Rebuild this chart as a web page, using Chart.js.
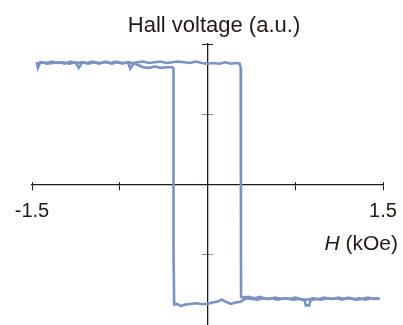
<!DOCTYPE html>
<html>
<head>
<meta charset="utf-8">
<script src="https://cdn.jsdelivr.net/npm/chart.js@4/dist/chart.umd.min.js"></script>
<style>
html,body{margin:0;padding:0;background:#fff;}
canvas{display:block;}
</style>
</head>
<body>
<canvas id="c" width="403" height="325"></canvas>
<script>
// Field sweep upward (from -1.5 to +1.5 kOe)
const ascH = [-1.46,-1.45,-1.43,-1.38,-1.33,-1.28,-1.23,-1.18,-1.13,-1.10,-1.07,-1.03,-0.98,-0.93,-0.88,-0.83,-0.78,-0.73,-0.68,-0.66,-0.63,-0.60,-0.55,-0.50,-0.45,-0.40,-0.35,-0.30,-0.25,-0.20,-0.15,-0.10,-0.05,0.00,0.05,0.10,0.15,0.20,0.25,0.275,0.284,0.286,0.286,0.286,0.287,0.30,0.35,0.40,0.45,0.50,0.55,0.60,0.65,0.70,0.75,0.80,0.85,0.90,0.95,1.00,1.05,1.10,1.15,1.20,1.25,1.30,1.35,1.40,1.47];
const ascV = [1.74,1.66,1.74,1.73,1.75,1.73,1.74,1.72,1.74,1.66,1.74,1.73,1.75,1.72,1.74,1.73,1.75,1.72,1.74,1.65,1.73,1.74,1.75,1.73,1.74,1.75,1.73,1.74,1.75,1.74,1.73,1.75,1.73,1.72,1.73,1.72,1.74,1.72,1.73,1.72,1.66,1.0,0.0,-1.0,-1.60,-1.61,-1.60,-1.62,-1.60,-1.63,-1.62,-1.64,-1.62,-1.63,-1.61,-1.63,-1.64,-1.62,-1.63,-1.61,-1.63,-1.62,-1.64,-1.61,-1.63,-1.62,-1.64,-1.62,-1.63];
// Field sweep downward (from +1.5 to -1.5 kOe)
const descH = [1.47,1.42,1.37,1.32,1.27,1.22,1.17,1.12,1.07,1.02,0.97,0.92,0.88,0.87,0.84,0.83,0.78,0.73,0.68,0.63,0.58,0.53,0.48,0.43,0.38,0.33,0.28,0.24,0.20,0.16,0.12,0.08,0.04,0.00,-0.05,-0.10,-0.15,-0.19,-0.23,-0.26,-0.285,-0.29,-0.29,-0.29,-0.292,-0.30,-0.35,-0.40,-0.45,-0.50,-0.55,-0.58,-0.62,-0.67,-0.72,-0.77,-0.82,-0.87,-0.92,-0.97,-1.02,-1.07,-1.12,-1.17,-1.22,-1.27,-1.32,-1.37,-1.42,-1.46];
const descV = [-1.62,-1.63,-1.61,-1.63,-1.64,-1.62,-1.63,-1.61,-1.63,-1.62,-1.64,-1.63,-1.65,-1.72,-1.72,-1.65,-1.63,-1.64,-1.62,-1.63,-1.61,-1.63,-1.62,-1.64,-1.63,-1.62,-1.67,-1.68,-1.70,-1.67,-1.64,-1.67,-1.68,-1.70,-1.70,-1.69,-1.70,-1.71,-1.73,-1.70,-1.71,-1.0,0.0,1.0,1.65,1.67,1.67,1.66,1.68,1.66,1.67,1.69,1.72,1.74,1.73,1.74,1.72,1.75,1.73,1.74,1.72,1.74,1.73,1.75,1.72,1.74,1.73,1.72,1.74,1.72];
const xTicks = [-1.5,-0.75,0.75,1.5];
const xLabels = ['-1.5','','','1.5'];
const yTicks = [-2,-1,1,2];
const titleText = 'Hall voltage (a.u.)';
const xTitleItalic = 'H';
const xTitleRest = ' (kOe)';

const ink = '#231815';
const lineCol = '#7b92c4';
const FONT = '"Liberation Sans", Arial, sans-serif';

const toPts = (hs, vs) => hs.map((h, i) => ({x: h, y: vs[i]}));

const textPlugin = {
  id: 'texts',
  afterDraw(chart) {
    const ctx = chart.ctx;
    ctx.save();
    ctx.fillStyle = ink;
    ctx.textBaseline = 'alphabetic';
    ctx.font = '22px ' + FONT;
    ctx.textAlign = 'center';
    ctx.fillText(titleText, 214, 32);
    ctx.textAlign = 'left';
    ctx.font = '21px ' + FONT;
    const wRest = ctx.measureText(xTitleRest).width;
    ctx.font = 'italic 21px ' + FONT;
    const wH = ctx.measureText(xTitleItalic).width;
    const right = 398;
    const x0 = right - wRest - wH;
    ctx.fillText(xTitleItalic, x0, 250);
    ctx.font = '21px ' + FONT;
    ctx.fillText(xTitleRest, x0 + wH, 250);
    ctx.restore();
  }
};

const setTicks = (vals) => (scale) => { scale.ticks = vals.map(v => ({value: v})); };
const noPad = (scale) => { scale.paddingLeft = 0; scale.paddingRight = 0; scale.paddingTop = 0; scale.paddingBottom = 0; };

new Chart(document.getElementById('c'), {
  type: 'scatter',
  data: {
    datasets: [
      {data: toPts(ascH, ascV), showLine: true, borderColor: lineCol, borderWidth: 2.6, pointRadius: 0, tension: 0, fill: false},
      {data: toPts(descH, descV), showLine: true, borderColor: lineCol, borderWidth: 2.6, pointRadius: 0, tension: 0, fill: false}
    ]
  },
  options: {
    responsive: false,
    devicePixelRatio: 1,
    animation: false,
    layout: {padding: {left: 32, right: 20, top: 44, bottom: 0}},
    plugins: {legend: {display: false}, tooltip: {enabled: false}, title: {display: false}},
    scales: {
      x: {
        type: 'linear', min: -1.5, max: 1.5, position: {y: 0},
        afterBuildTicks: setTicks(xTicks),
        afterFit: noPad,
        grid: {drawOnChartArea: false, drawTicks: true, tickLength: 5, tickColor: ink, tickWidth: 1},
        border: {display: true, color: ink, width: 1.3},
        ticks: {color: ink, font: {size: 20, family: FONT}, padding: 10, maxRotation: 0, autoSkip: false,
          callback: (v, i) => xLabels[i]}
      },
      x2: {
        type: 'linear', min: -1.5, max: 1.5, position: {y: 0}, axis: 'x',
        afterBuildTicks: setTicks(xTicks),
        afterFit: noPad,
        grid: {drawOnChartArea: false, drawTicks: true, tickLength: -3, tickColor: ink, tickWidth: 1},
        border: {display: false},
        ticks: {display: false}
      },
      y: {
        type: 'linear', min: -2, max: 2, position: {x: 0},
        afterBuildTicks: setTicks(yTicks),
        afterFit: noPad,
        grid: {drawOnChartArea: false, drawTicks: true, tickLength: 5, tickWidth: 1,
          tickColor: (c) => Math.abs(c.tick.value) === 2 ? ink : '#8c8482'},
        border: {display: true, color: ink, width: 1.3},
        ticks: {display: false}
      },
      y2: {
        type: 'linear', min: -2, max: 2, position: {x: 0}, axis: 'y',
        afterBuildTicks: setTicks(yTicks),
        afterFit: noPad,
        grid: {drawOnChartArea: false, drawTicks: true, tickLength: -5, tickWidth: 1,
          tickColor: (c) => Math.abs(c.tick.value) === 2 ? ink : '#8c8482'},
        border: {display: false},
        ticks: {display: false}
      }
    }
  },
  plugins: [textPlugin]
});
</script>
</body>
</html>
